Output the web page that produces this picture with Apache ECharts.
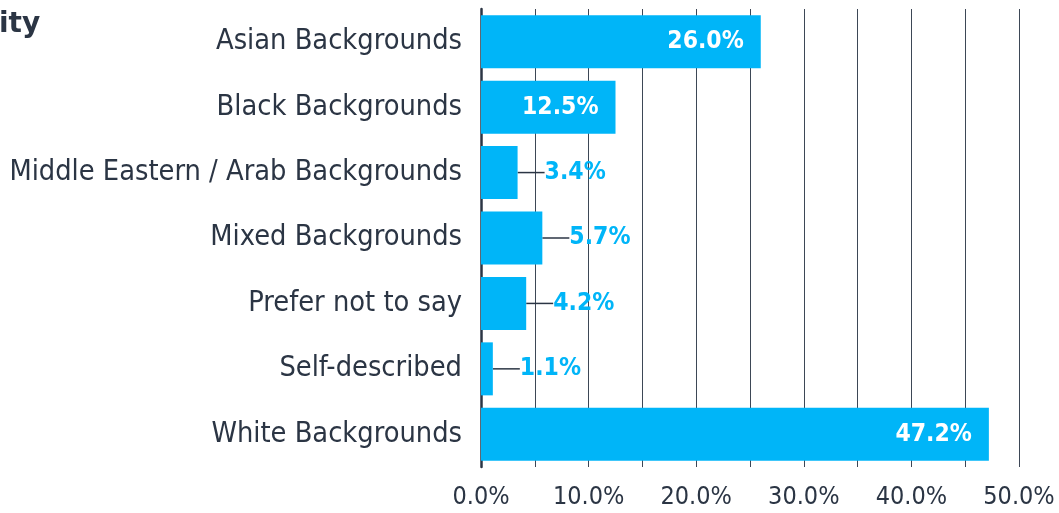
<!DOCTYPE html>
<html>
<head>
<meta charset="utf-8">
<script src="https://cdn.jsdelivr.net/npm/echarts@6/dist/echarts.min.js"></script>
<style>
  html, body { margin: 0; padding: 0; background: #ffffff; }
  #chart { width: 1059px; height: 513px; }
</style>
</head>
<body>
<div id="chart"></div>
<script>
// Share of respondents by ethnic background (%)
const categories = [
  'Asian Backgrounds',
  'Black Backgrounds',
  'Middle Eastern / Arab Backgrounds',
  'Mixed Backgrounds',
  'Prefer not to say',
  'Self-described',
  'White Backgrounds'
];
const shares = [26.0, 12.5, 3.4, 5.7, 4.2, 1.1, 47.2];
const axisTicks = [0, 10, 20, 30, 40, 50];

const INK = '#2b3544';
const BLUE = '#00b5f8';
const FONT = '"DejaVu Sans Condensed", "DejaVu Sans", sans-serif';

// Long bars carry their value inside; short ones get a leader line and an outside label
const insideLabel = {
  show: true,
  position: 'insideRight',
  distance: 17,
  color: '#ffffff',
  fontFamily: FONT,
  fontWeight: 'bold',
  fontSize: 24.5,
  formatter: p => p.value.toFixed(1) + '%'
};
const outsideLabel = {
  show: true,
  position: 'right',
  distance: 0,
  padding: [0, 0, 0, 5],
  color: BLUE,
  fontFamily: FONT,
  fontWeight: 'bold',
  fontSize: 24.5,
  formatter: p => p.value.toFixed(1) + '%'
};

const barData = shares.map(v => ({
  value: v,
  label: v > 10 ? insideLabel : outsideLabel,
  labelLine: { show: v <= 10 }
}));

const chart = echarts.init(document.getElementById('chart'), null, { renderer: 'canvas' });
chart.setOption({
  animation: false,
  graphic: [{
    type: 'text',
    left: -1,
    top: 11,
    style: {
      text: 'ity',
      fill: INK,
      font: 'bold 28px "DejaVu Sans", sans-serif'
    }
  }],
  grid: { left: 481, right: 40, top: 9, bottom: 46 },
  xAxis: {
    type: 'value',
    min: 0,
    max: 50,
    interval: 5,
    axisLine: { show: false },
    axisTick: { show: false },
    splitLine: { show: true, lineStyle: { color: '#3d4756', width: 1 } },
    axisLabel: {
      color: INK,
      fontFamily: FONT,
      fontSize: 25,
      margin: 18,
      formatter: v => axisTicks.includes(v) ? v.toFixed(1) + '%' : ''
    }
  },
  yAxis: {
    type: 'category',
    inverse: true,
    data: categories,
    axisLine: { show: true, lineStyle: { color: INK, width: 2.5 } },
    axisTick: { show: false },
    axisLabel: {
      color: INK,
      fontFamily: FONT,
      fontSize: 28.7,
      margin: 19
    }
  },
  series: [{
    type: 'bar',
    data: barData,
    barCategoryGap: '19%',
    itemStyle: { color: BLUE },
    labelLayout: params => (params.labelRect && params.rect && params.labelRect.x > params.rect.x + params.rect.width - 2)
      ? { dx: 22 } : {},
    labelLine: { lineStyle: { color: INK, width: 1.5 } }
  }]
});
</script>
</body>
</html>
